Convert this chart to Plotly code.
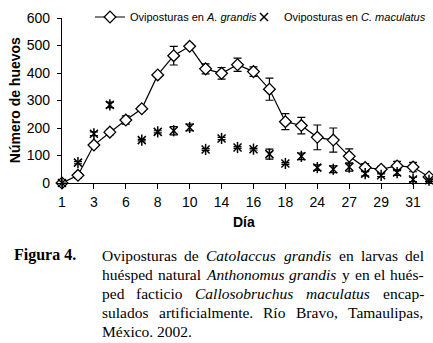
import plotly.graph_objects as go

# Category index (one per sampling day); only every second category is labelled
day_index = list(range(24))
tick_labels = ["1", "3", "6", "8", "10", "14", "16", "18", "24", "27", "29", "31"]

# Ovipositions in A. grandis (mean and error)
grandis = [0, 28, 138, 185, 229, 270, 393, 463, 497, 415, 399, 430,
           405, 341, 223, 209, 166, 156, 97, 56, 50, 62, 58, 22]
grandis_err = [3, 10, 8, 10, 15, 9, 6, 34, 8, 18, 21, 24,
               17, 40, 29, 30, 45, 44, 27, 15, 11, 17, 17, 5]

# Ovipositions in C. maculatus (mean and error)
maculatus = [0, 74, 179, 284, None, 156, 186, 190, 202, 122, 162, 129,
             123, 105, 71, 97, 56, 50, 58, 34, 28, 38, 13, 10]
maculatus_err = [0, 4, 7, 10, 0, 3, 4, 15, 12, 3, 4, 3,
                 3, 18, 3, 12, 10, 12, 15, 8, 5, 10, 8, 4]

# Caption text (words of each justified line)
caption_label = "Figura 4."
caption_lines = [
    ["Oviposturas", "de", "<i>Catolaccus</i>", "<i>grandis</i>", "en", "larvas", "del"],
    ["huésped", "natural", "<i>Anthonomus</i>", "<i>grandis</i>", "y", "en", "el", "hués-"],
    ["ped", "facticio", "<i>Callosobruchus</i>", "<i>maculatus</i>", "encap-"],
    ["sulados", "artificialmente.", "Río", "Bravo,", "Tamaulipas,"],
    ["México.", "2002."],
]

# ---------------- layout ----------------
W, H = 433, 343
# plot area in page pixels
PL, PR, PT, PB = 62, 433, 18, 182.7
L, T, R, B = PL, PT, W - PR, H - PB
PW, PH = PR - PL, PB - PT

def px(x):
    return (x - PL) / PW

def py(y):
    return (PB - y) / PH

# approximate glyph widths (Times metrics, 1/1000 em) for justification
ROMAN = dict(zip("abcdefghijklmnopqrstuvwxyz",
                 [444, 500, 444, 500, 444, 333, 500, 500, 278, 278, 500, 278, 778,
                  500, 500, 500, 500, 333, 389, 278, 500, 500, 722, 500, 500, 444]))
ITAL = dict(zip("abcdefghijklmnopqrstuvwxyz",
                [500, 500, 444, 500, 444, 278, 500, 500, 278, 278, 444, 278, 722,
                 500, 500, 500, 500, 389, 389, 278, 500, 444, 667, 444, 444, 389]))
UP_R = {"M": 889, "R": 667, "B": 667, "T": 611, "O": 722}
UP_I = {"A": 611, "C": 667}
MISC = {"é": 444, "í": 278, ".": 250, ",": 250, "-": 333, "0": 500, "2": 500}

def word_width(w, size):
    ital = w.startswith("<i>")
    t = w.replace("<i>", "").replace("</i>", "")
    tot = 0
    for ch in t:
        if ch in MISC:
            tot += MISC[ch]
        elif ch.isupper():
            tot += (UP_I if ital else UP_R).get(ch, 667)
        else:
            tot += (ITAL if ital else ROMAN).get(ch, 500)
    if ital:
        tot += 60  # italic overhang
    return tot * size / 1000.0

fig = go.Figure()

fig.add_trace(go.Scatter(
    x=day_index, y=grandis,
    mode="lines+markers",
    name="Oviposturas en <i>A. grandis</i>",
    line=dict(color="black", width=1.2),
    marker=dict(symbol="diamond", size=9, color="white",
                line=dict(color="black", width=1.3)),
    error_y=dict(type="data", array=grandis_err, color="black",
                 thickness=1.2, width=4),
    cliponaxis=False,
    legend="legend",
))

fig.add_trace(go.Scatter(
    x=day_index, y=maculatus,
    mode="markers",
    name="Oviposturas en <i>C. maculatus</i>",
    marker=dict(symbol="x-thin-open", size=8, color="black",
                line=dict(color="black", width=1.5)),
    error_y=dict(type="data", array=maculatus_err, color="black",
                 thickness=1.2, width=4),
    cliponaxis=False,
    legend="legend2",
))
fig.add_trace(go.Scatter(
    x=day_index, y=maculatus,
    mode="markers",
    showlegend=False,
    marker=dict(symbol="line-ns-open", size=8, color="black",
                line=dict(color="black", width=1.5)),
    cliponaxis=False,
    hoverinfo="skip",
))

legend_common = dict(orientation="h", xanchor="left", yanchor="middle",
                     font=dict(size=11), bgcolor="rgba(0,0,0,0)",
                     itemwidth=30, borderwidth=0)

fig.update_layout(
    width=W, height=H,
    margin=dict(l=L, r=R, t=T, b=B, autoexpand=False),
    paper_bgcolor="white", plot_bgcolor="white",
    font=dict(family="Liberation Sans, Arial, sans-serif", color="black"),
    showlegend=True,
    legend=dict(x=px(90), y=py(17), **legend_common),
    legend2=dict(x=px(244), y=py(17), **legend_common),
    xaxis=dict(range=[0, 23.25], showgrid=False, zeroline=False,
               showline=True, linecolor="black", linewidth=1.2,
               tickmode="array", tickvals=day_index[::2], ticktext=tick_labels,
               ticks="outside", ticklen=5, tickcolor="black",
               tickfont=dict(size=14), ticklabelstandoff=1, automargin=False),
    yaxis=dict(range=[0, 600], showgrid=False, zeroline=False,
               showline=True, linecolor="black", linewidth=1.2,
               tickmode="linear", tick0=0, dtick=100,
               ticks="outside", ticklen=4, tickcolor="black",
               tickfont=dict(size=14), ticklabelstandoff=4, automargin=False),
)

def text_ann(text, x, y, xanchor="center", size=16, family=None, **kw):
    d = dict(text=text, x=px(x), y=py(y), xref="paper", yref="paper",
             xanchor=xanchor, yanchor="middle", showarrow=False,
             font=dict(size=size, **({"family": family} if family else {})))
    d.update(kw)
    return d

ann = []
ann.append(text_ann("<b>Número de huevos</b>", 15, 100, size=14, textangle=-90))
ann.append(text_ann("<b>Día</b>", 244, 222, size=14))

serif = "Liberation Serif, Times New Roman, serif"
CAP_SIZE = 15.5
line_y = [255, 274, 293, 312, 331]
left_x, right_x = 100, 422
ann.append(text_ann("<b>" + caption_label + "</b>", 12, line_y[0], xanchor="left",
                    size=16, family=serif))
for i, (words, yy) in enumerate(zip(caption_lines, line_y)):
    widths = [word_width(w, CAP_SIZE) for w in words]
    last = i == len(caption_lines) - 1
    if last:
        gap = 0.25 * CAP_SIZE
    else:
        gap = (right_x - left_x - sum(widths)) / (len(words) - 1)
    xx = left_x
    for w, wd in zip(words, widths):
        ann.append(text_ann(w, xx, yy, xanchor="left", size=CAP_SIZE, family=serif))
        xx += wd + gap
fig.update_layout(annotations=ann)

fig.write_html("out.html",
               config={"displayModeBar": False},
               post_script="document.body.style.margin='0';"
                           "document.body.style.overflow='hidden';")
